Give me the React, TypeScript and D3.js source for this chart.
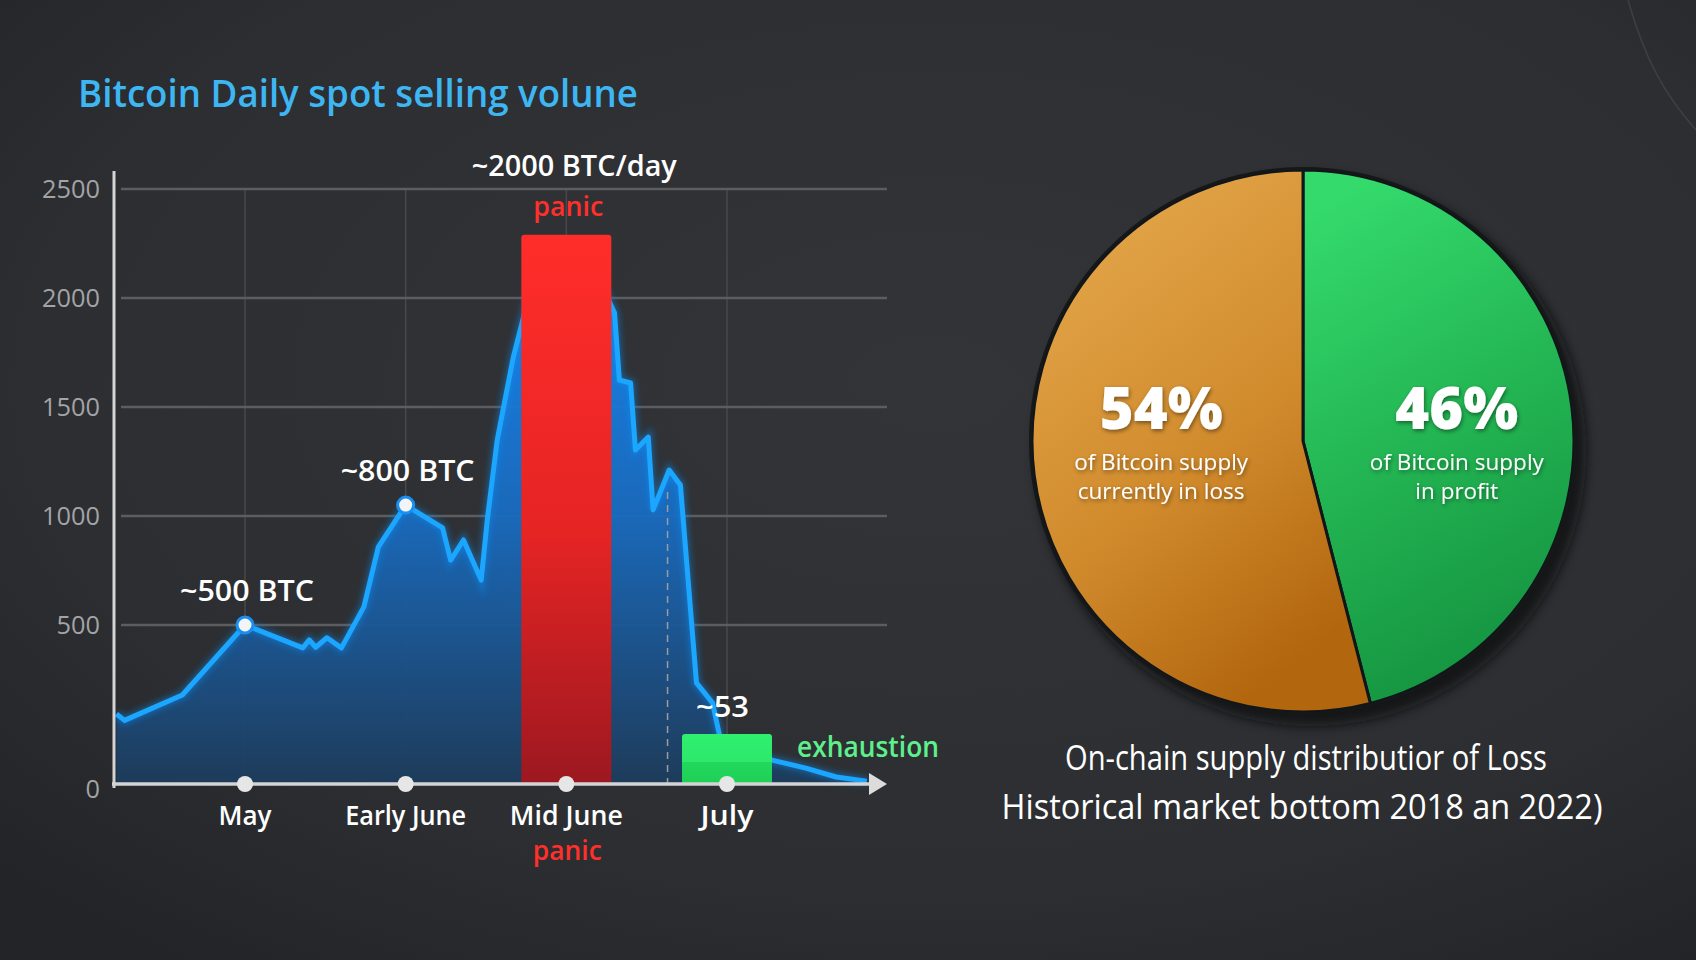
import React from 'react';
import * as d3 from 'd3';

const W = 1696;
const H = 960;

// left chart: daily spot selling volume (BTC)
const yTicks = [0, 500, 1000, 1500, 2000, 2500];
const yTickLabels = ['0', '500', '1000', '1500', '2000', '2500'];
const xCategories = ['May', 'Early June', 'Mid June', 'July'];
const xCategoryPos = [1, 2, 3, 4];

// curve points, x in category units (1 = May ... 4 = July)
const sellT = [0.2, 0.25, 0.61, 1.0, 1.36, 1.4, 1.44, 1.51, 1.6, 1.74, 1.83, 2.0, 2.23, 2.28, 2.36, 2.47, 2.51, 2.57, 2.67, 2.84, 3.15, 3.3, 3.33, 3.4, 3.43, 3.51, 3.54, 3.64, 3.71, 3.81, 3.91, 3.98, 4.28, 4.49, 4.68, 4.87];
const sellV = [220, 200, 280, 500, 428, 453, 430, 460, 428, 583, 858, 1050, 945, 798, 890, 706, 995, 1349, 1729, 2220, 2170, 1932, 1624, 1610, 1303, 1362, 1028, 1211, 1142, 318, 255, 91, 75, 50, 22, 9];

// annotated points on the curve
const noteIdx = [3, 11];
const noteText = ['~500 BTC', '~800 BTC'];

// highlighted bars
const barPos = [3, 4];
const barValues = [2290, 157];
const barNames = ['panic', 'exhaustion'];

const dashT = 3.63;
const dashV = 1110;

// right chart: supply distribution
const pieNames = ['in profit', 'currently in loss'];
const pieValues = [46, 54];

const FONT = "'Open Sans', 'Noto Sans', sans-serif";

type TProps = {
  x: number;
  y: number;
  text: string;
  size: number;
  fill?: string;
  width?: number;
  anchor?: 'start' | 'middle' | 'end';
  weight?: number;
  filter?: string;
};

const T = ({ x, y, text, size, fill = '#fff', width, anchor = 'middle', weight = 600, filter }: TProps) => (
  <text
    x={x}
    y={y}
    fontSize={size}
    fill={fill}
    textAnchor={anchor}
    fontWeight={weight}
    fontFamily={FONT}
    textLength={width}
    lengthAdjust={width ? 'spacingAndGlyphs' : undefined}
    filter={filter}
  >
    {text}
  </text>
);

const App = () => {
  const x = d3.scaleLinear().domain([1, 4]).range([245, 727]);
  const y = d3.scaleLinear().domain([0, 500, 2500]).range([784, 625, 189]);
  const x0 = 114;
  const xEnd = 887;
  const barW = x(0.56) - x(0);

  const pts: [number, number][] = sellT.map((t, i) => [t, sellV[i]]);
  const area = d3
    .area<[number, number]>()
    .x((d) => x(d[0]))
    .y0(y(0))
    .y1((d) => y(d[1]));
  const line = d3
    .line<[number, number]>()
    .x((d) => x(d[0]))
    .y((d) => y(d[1]));

  const cx = 1303;
  const cy = 441;
  const r = 271;
  const pie = d3.pie<number>().sort(null)(pieValues);
  const arc = d3.arc<d3.PieArcDatum<number>>().innerRadius(0).outerRadius(r);
  const labelArc = d3.arc<d3.PieArcDatum<number>>().innerRadius(r * 0.55).outerRadius(r * 0.55);
  const pieFill = ['url(#gGreen)', 'url(#gOrange)'];

  return (
    <svg width={W} height={H} style={{ position: 'absolute', left: 0, top: 0 }}>
      <defs>
        <radialGradient id="bg" cx="0.55" cy="0.4" r="0.75">
          <stop offset="0" stopColor="#323438" />
          <stop offset="0.7" stopColor="#2c2e31" />
          <stop offset="1" stopColor="#232427" />
        </radialGradient>
        <linearGradient id="gArea" gradientUnits="userSpaceOnUse" x1="0" y1="300" x2="0" y2="784">
          <stop offset="0" stopColor="#1784ee" />
          <stop offset="0.45" stopColor="#196bbf" />
          <stop offset="1" stopColor="#1d3c5c" />
        </linearGradient>
        <linearGradient id="gRed" x1="0" y1="0" x2="0" y2="1">
          <stop offset="0" stopColor="#ff2d2a" />
          <stop offset="0.55" stopColor="#e52424" />
          <stop offset="1" stopColor="#9c1820" />
        </linearGradient>
        <linearGradient id="gGreenBar" x1="0" y1="0" x2="0" y2="1">
          <stop offset="0" stopColor="#2ef06e" />
          <stop offset="0.55" stopColor="#2ee86c" />
          <stop offset="0.56" stopColor="#22d85c" />
          <stop offset="1" stopColor="#1fcf57" />
        </linearGradient>
        <linearGradient id="gOrange" x1="0.15" y1="0.1" x2="0.6" y2="1">
          <stop offset="0" stopColor="#e2a548" />
          <stop offset="0.55" stopColor="#d08a2c" />
          <stop offset="1" stopColor="#b2660e" />
        </linearGradient>
        <linearGradient id="gGreen" x1="0.3" y1="0" x2="0.6" y2="1">
          <stop offset="0" stopColor="#34da6c" />
          <stop offset="0.5" stopColor="#23b553" />
          <stop offset="1" stopColor="#14913f" />
        </linearGradient>
        <filter id="glow" x="-10%" y="-10%" width="120%" height="120%">
          <feGaussianBlur stdDeviation="3" />
        </filter>
        <filter id="pieShadow" x="-20%" y="-20%" width="140%" height="140%">
          <feGaussianBlur stdDeviation="6" />
        </filter>
        <filter id="txtShadow" x="-20%" y="-20%" width="140%" height="140%">
          <feDropShadow dx="1" dy="2" stdDeviation="2" floodColor="#000" floodOpacity="0.45" />
        </filter>
      </defs>

      <rect width={W} height={H} fill="url(#bg)" />
      <path d="M1628 0 C1645 60 1665 95 1696 130" fill="none" stroke="#4a4d52" strokeWidth={1.5} opacity={0.6} />

      {/* title */}
      <T x={78} y={107} text="Bitcoin Daily spot selling volune" size={37} fill="#3db6f2" width={560} anchor="start" />

      {/* grid */}
      {xCategoryPos.map((t) => (
        <line key={'vg' + t} x1={x(t)} x2={x(t)} y1={y(2500)} y2={y(0)} stroke="#47494d" strokeWidth={1.5} />
      ))}
      {yTicks.filter((v) => v > 0).map((v) => (
        <line key={'hg' + v} x1={x0 + 7} x2={xEnd} y1={y(v)} y2={y(v)} stroke="#5b5d61" strokeWidth={2.5} />
      ))}
      {yTicks.map((v, i) => (
        <T key={'yl' + v} x={100} y={y(v) + (v === 0 ? 14 : 9)} text={yTickLabels[i]} size={26} fill="#a3a4a6" weight={400} anchor="end" width={yTickLabels[i].length * 14.5} />
      ))}

      {/* area + line */}
      <path d={area(pts) ?? ''} fill="url(#gArea)" opacity={0.95} />
      <path d={line(pts) ?? ''} fill="none" stroke="#0f8cf0" strokeWidth={9} opacity={0.45} filter="url(#glow)" />
      <path d={line(pts) ?? ''} fill="none" stroke="#1ba6ff" strokeWidth={5} strokeLinejoin="round" />

      {/* dashed marker */}
      <line x1={x(dashT)} x2={x(dashT)} y1={y(dashV)} y2={y(0)} stroke="#9a9ca0" strokeWidth={1.5} strokeDasharray="7 6" />

      {/* bars */}
      {barPos.map((t, i) => (
        <rect
          key={'bar' + i}
          x={x(t) - barW / 2}
          y={y(barValues[i])}
          width={barW}
          height={y(0) - y(barValues[i])}
          rx={3}
          fill={i === 0 ? 'url(#gRed)' : 'url(#gGreenBar)'}
        />
      ))}

      {/* axes */}
      <line x1={x0} x2={x0} y1={171} y2={788} stroke="#d4d4d4" strokeWidth={3} />
      <line x1={x0 - 2} x2={xEnd - 14} y1={y(0)} y2={y(0)} stroke="#d4d4d4" strokeWidth={3.5} />
      <path d={`M${xEnd - 18},${y(0) - 11} L${xEnd},${y(0)} L${xEnd - 18},${y(0) + 11} Z`} fill="#dcdcdc" />
      {xCategoryPos.map((t, i) => (
        <g key={'xt' + t}>
          <circle cx={x(t)} cy={y(0)} r={8} fill="#e6e6e6" />
          <T x={x(t)} y={825} text={xCategories[i]} size={27} width={[53, 121, 113, 53][i]} />
        </g>
      ))}

      {/* point annotations */}
      {noteIdx.map((k, i) => (
        <g key={'note' + k}>
          <circle cx={x(sellT[k])} cy={y(sellV[k])} r={8} fill="#f2f4f8" stroke="#1a8ff0" strokeWidth={3} />
          <T x={x(sellT[k]) + 2} y={y(sellV[k]) - 24} text={noteText[i]} size={28} width={134} />
        </g>
      ))}

      {/* bar annotations */}
      <T x={x(barPos[0]) + 8} y={176} text="~2000 BTC/day" size={28} width={205} />
      <T x={x(barPos[0]) + 2} y={216} text={barNames[0]} size={27} fill="#ff2f2b" width={70} />
      <T x={x(barPos[0]) + 1} y={860} text={barNames[0]} size={27} fill="#ff2f2b" width={69} />
      <T x={x(sellT[30]) + 10} y={717} text="~53" size={28} width={53} />
      <T x={x(barPos[1]) + barW / 2 + 25} y={757} text={barNames[1]} size={28} fill="#5ef08c" width={142} anchor="start" />

      {/* pie */}
      <circle cx={cx + 8} cy={cy + 10} r={r + 4} fill="#0c0d0f" opacity={0.75} filter="url(#pieShadow)" />
      <g transform={`translate(${cx},${cy})`}>
        {pie.map((d, i) => (
          <path key={'sl' + i} d={arc(d) ?? ''} fill={pieFill[i]} stroke="#10161a" strokeWidth={3} strokeLinejoin="round" />
        ))}
        <circle r={r + 1.5} fill="none" stroke="#151719" strokeWidth={3} />
        {pie.map((d, i) => {
          const lx = labelArc.centroid(d)[0] + 6;
          const pct = `${pieValues[i]}%`;
          return (
            <g key={'pl' + i}>
              <T x={lx} y={-12} text={pct} size={58} weight={800} width={123} filter="url(#txtShadow)" />
              <T x={lx} y={29} text="of Bitcoin supply" size={21} weight={400} width={174} filter="url(#txtShadow)" />
              <T x={lx} y={58} text={pieNames[i]} size={21} weight={400} width={i === 0 ? 83 : 167} filter="url(#txtShadow)" />
            </g>
          );
        })}
      </g>

      <T x={1306} y={770} text="On-chain supply distributior of Loss" size={34} weight={500} width={482} />
      <T x={1302} y={819} text="Historical market bottom 2018 an 2022)" size={34} weight={500} width={601} />
    </svg>
  );
};

export default App;
